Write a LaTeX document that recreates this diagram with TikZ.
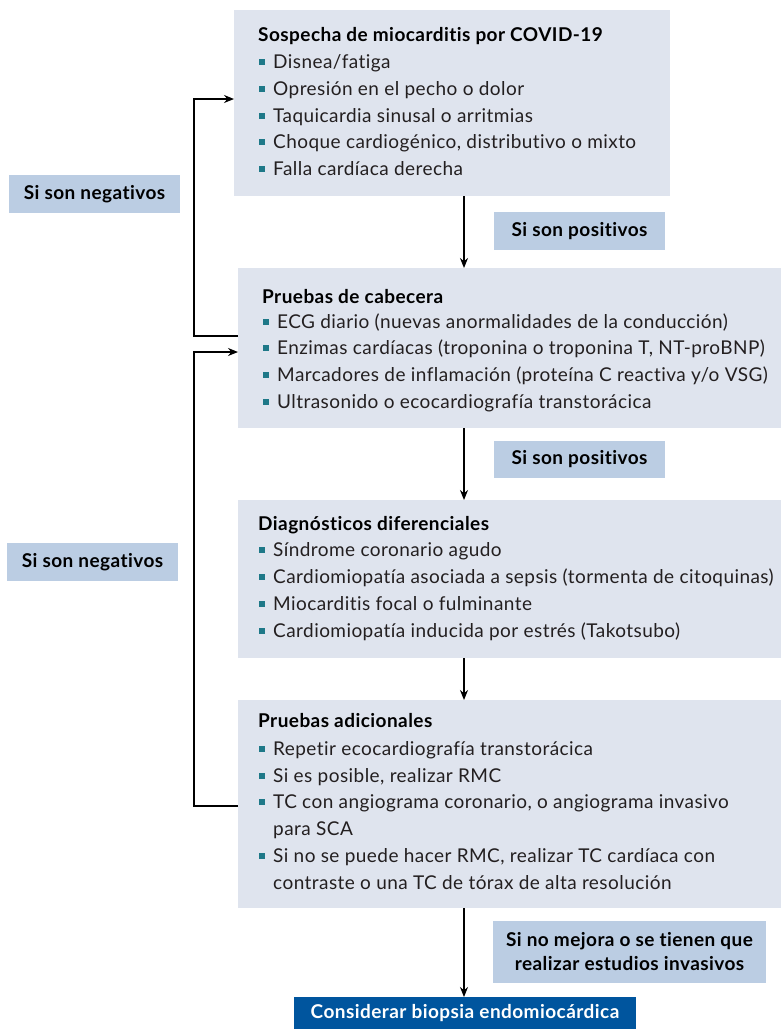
\documentclass[tikz,border=0pt]{standalone}
\usepackage{fontspec}
\setmainfont{Lato}[LetterSpace=2.3,Ligatures=NoCommon]
\usetikzlibrary{arrows.meta}
\definecolor{boxfill}{HTML}{DFE4EE}
\definecolor{labfill}{HTML}{BBCDE3}
\definecolor{darkblue}{HTML}{00559E}
\definecolor{bulletc}{HTML}{1E7888}
\definecolor{txt}{HTML}{231F20}
\tikzset{
  box/.style={fill=boxfill, draw=none, anchor=north west, inner sep=0pt, outer sep=0pt},
  lab/.style={fill=labfill, draw=none, anchor=north west, inner sep=0pt, outer sep=0pt, align=center, font=\fontsize{19}{24}\selectfont\bfseries, text=black},
  ttl/.style={anchor=base west, inner sep=0pt, font=\fontsize{19}{22}\selectfont\bfseries, text=black},
  itm/.style={anchor=base west, inner sep=0pt, font=\fontsize{19}{22}\selectfont, text=txt},
  bul/.style={fill=bulletc, inner sep=0pt, minimum size=5.5pt, anchor=center},
  arr/.style={draw=black, line width=1.3pt, -{Stealth[length=10pt,width=8pt]}},
}
\begin{document}
\begin{tikzpicture}[x=1pt,y=-1pt]
\useasboundingbox (0,0) rectangle (781,1029);
% boxes
\node[box, minimum width=436pt, minimum height=186pt] (b1) at (234,10) {};
\node[box, minimum width=543pt, minimum height=160pt] (b2) at (238,268) {};
\node[box, minimum width=543pt, minimum height=158pt] (b3) at (238,500) {};
\node[box, minimum width=543pt, minimum height=208pt] (b4) at (238,700) {};
\node[box, fill=darkblue, minimum width=342pt, minimum height=32pt, text=white, font=\fontsize{19}{22}\selectfont\bfseries] (b5) at (294,997) {\raisebox{-3pt}{Considerar biopsia endomiocárdica}};
% labels
\node[lab, minimum width=171pt, minimum height=38pt] (n1) at (9,175) {Si son negativos};
\node[lab, minimum width=171pt, minimum height=38pt] (p1) at (494,212) {Si son positivos};
\node[lab, minimum width=171pt, minimum height=37pt] (p2) at (494,441) {Si son positivos};
\node[lab, minimum width=171pt, minimum height=38pt] (n2) at (7,543) {Si son negativos};
\node[lab, minimum width=273pt, minimum height=62pt] (m) at (493,921) {Si no mejora o se tienen que\\realizar estudios invasivos};
% box 1 text
\node[ttl] (t1) at (258,41) {Sospecha de miocarditis por COVID-19};
\node[itm] (t1a) at (273,68) {Disnea/fatiga};
\node[itm] (t1b) at (273,95) {Opresión en el pecho o dolor};
\node[itm] (t1c) at (273,122) {Taquicardia sinusal o arritmias};
\node[itm] (t1d) at (273,148) {Choque cardiogénico, distributivo o mixto};
\node[itm] (t1e) at (273,175) {Falla cardíaca derecha};
\foreach \y [count=\i] in {68,95,122,148,175} \node[bul] (s1\i) at (262,\y-6) {};
% box 2 text
\node[ttl] (t2) at (262,303) {Pruebas de cabecera};
\node[itm] (t2a) at (277,328) {ECG diario (nuevas anormalidades de la conducción)};
\node[itm] (t2b) at (277,354) {Enzimas cardíacas (troponina o troponina T, NT-proBNP)};
\node[itm] (t2c) at (277,381) {Marcadores de inflamación (proteína C reactiva y/o VSG)};
\node[itm] (t2d) at (277,408) {Ultrasonido o ecocardiografía transtorácica};
\foreach \y [count=\i] in {328,354,381,408} \node[bul] (s2\i) at (266,\y-6) {};
% box 3 text
\node[ttl] (t3) at (258,530) {Diagnósticos diferenciales};
\node[itm] (t3a) at (273,556) {Síndrome coronario agudo};
\node[itm] (t3b) at (273,583) {Cardiomiopatía asociada a sepsis (tormenta de citoquinas)};
\node[itm] (t3c) at (273,610) {Miocarditis focal o fulminante};
\node[itm] (t3d) at (273,637) {Cardiomiopatía inducida por estrés (Takotsubo)};
\foreach \y [count=\i] in {556,583,610,637} \node[bul] (s3\i) at (262,\y-6) {};
% box 4 text
\node[ttl] (t4) at (258,727) {Pruebas adicionales};
\node[itm] (t4a) at (273,755) {Repetir ecocardiografía transtorácica};
\node[itm] (t4b) at (273,782) {Si es posible, realizar RMC};
\node[itm] (t4c) at (273,808) {TC con angiograma coronario, o angiograma invasivo};
\node[itm] (t4d) at (273,835) {para SCA};
\node[itm] (t4e) at (273,862) {Si no se puede hacer RMC, realizar TC cardíaca con};
\node[itm] (t4f) at (273,889) {contraste o una TC de tórax de alta resolución};
\foreach \y [count=\i] in {755,782,808,862} \node[bul] (s4\i) at (262,\y-6) {};
% connectors
\coordinate (ax) at (464,0);
\draw[arr] (ax |- b1.south) -- (ax |- b2.north);
\draw[arr] (ax |- b2.south) -- (ax |- b3.north);
\draw[arr] (ax |- b3.south) -- (ax |- b4.north);
\draw[arr] (ax |- b4.south) -- (ax |- b5.north);
\draw[arr] ([yshift=12pt]b2.west) -| ([xshift=-40pt,yshift=4pt]b1.west) -- ([yshift=4pt]b1.west);
\draw[arr] ([yshift=-2pt]b4.west) -| ([xshift=-44pt,yshift=-4pt]b2.west) -- ([yshift=-4pt]b2.west);
\end{tikzpicture}
\end{document}
